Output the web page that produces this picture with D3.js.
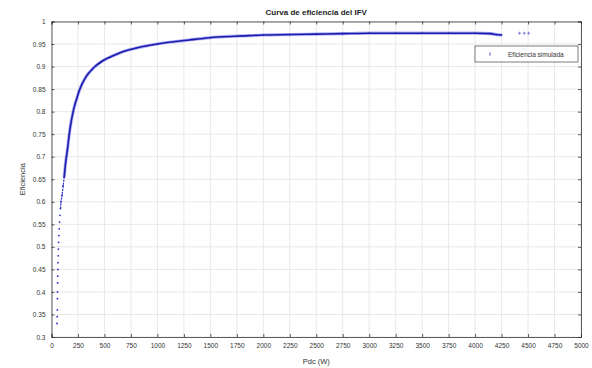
<!DOCTYPE html>
<html>
<head>
  <meta charset="utf-8">
  <script src="https://d3js.org/d3.v7.min.js"></script>
  <style>
    body { margin: 0; background: #fff; }
    text { font-family: "Liberation Sans", Arial, sans-serif; }
  </style>
</head>
<body>
<script>
  // simulated points: Pdc (W) and efficiency
  var pdc = [52, 54, 55, 56, 57, 58, 59, 60, 61, 63, 65, 67, 70, 73, 76, 80, 85, 90,
             100, 110, 120, 135, 150, 165, 180, 200, 220, 240, 260, 290, 320, 350, 380,
             420, 460, 500, 560, 620, 700, 800, 900, 1000, 1150, 1300, 1450, 1600, 1800,
             2000, 2250, 2500, 2750, 3000, 3250, 3500, 3750, 4000, 4150, 4200, 4250];
  var eff = [0.33, 0.345, 0.36, 0.385, 0.40, 0.42, 0.435, 0.45, 0.465, 0.48, 0.495, 0.51, 0.525, 0.54, 0.555, 0.57, 0.585, 0.60,
             0.615, 0.635, 0.655, 0.69, 0.715, 0.745, 0.77, 0.795, 0.815, 0.83, 0.845, 0.862, 0.875, 0.885, 0.893,
             0.902, 0.909, 0.915, 0.922, 0.928, 0.935, 0.941, 0.946, 0.950, 0.955, 0.959, 0.963, 0.966, 0.968,
             0.970, 0.971, 0.972, 0.973, 0.974, 0.974, 0.974, 0.974, 0.974, 0.973, 0.971, 0.970];
  // a few stray points past the end of the band
  var strayP = [4420, 4465, 4505];
  var strayEff = [0.974, 0.974, 0.974];

  var xTicks = d3.range(0, 5001, 250);
  var yTicks = [0.3, 0.35, 0.4, 0.45, 0.5, 0.55, 0.6, 0.65, 0.7, 0.75, 0.8, 0.85, 0.9, 0.95, 1];

  var W = 592, H = 368;
  var pLeft = 51.5, pRight = 581, pTop = 21.5, pBottom = 337;

  var svg = d3.select("body").append("svg")
      .attr("width", W).attr("height", H);

  var x = d3.scaleLinear().domain([0, 5000]).range([pLeft, pRight]);
  var y = d3.scaleLinear().domain([0.3, 1]).range([pBottom, pTop]);

  // grid
  svg.append("g").selectAll("line").data(xTicks).enter().append("line")
      .attr("x1", d => x(d)).attr("x2", d => x(d))
      .attr("y1", pTop).attr("y2", pBottom)
      .attr("stroke", "#e8e8e8").attr("stroke-width", 1);
  svg.append("g").selectAll("line").data(yTicks).enter().append("line")
      .attr("x1", pLeft).attr("x2", pRight)
      .attr("y1", d => y(d)).attr("y2", d => y(d))
      .attr("stroke", "#e8e8e8").attr("stroke-width", 1);

  // axes, ticks inside like matlab
  var xAxis = d3.axisBottom(x).tickValues(xTicks).tickSize(-3).tickPadding(6).tickFormat(d3.format("d"));
  var yAxis = d3.axisLeft(y).tickValues(yTicks).tickSize(-3).tickPadding(6).tickFormat(d => String(+d.toFixed(2)));

  var gx = svg.append("g").attr("transform", "translate(0," + pBottom + ")").call(xAxis);
  var gy = svg.append("g").attr("transform", "translate(" + pLeft + ",0)").call(yAxis);
  var gxt = svg.append("g").attr("transform", "translate(0," + pTop + ")")
      .call(d3.axisTop(x).tickValues(xTicks).tickSize(-3).tickFormat(""));
  var gyr = svg.append("g").attr("transform", "translate(" + pRight + ",0)")
      .call(d3.axisRight(y).tickValues(yTicks).tickSize(-3).tickFormat(""));

  [gx, gy, gxt, gyr].forEach(function(g) {
    g.selectAll("path").attr("stroke", "#333").attr("stroke-width", 0.8);
    g.selectAll("line").attr("stroke", "#333").attr("stroke-width", 0.8);
    g.selectAll("text").attr("fill", "#333").style("font-size", "6.5px");
  });

  // band of points
  var pts = pdc.map((p, i) => [p, eff[i]]);
  var dense = pts.filter(d => d[0] >= 120);
  var thin = pts.filter(d => d[0] >= 85 && d[0] <= 120);
  var line = d3.line().x(d => x(d[0])).y(d => y(d[1])).curve(d3.curveMonotoneX);

  svg.append("path").datum(thin).attr("d", line)
      .attr("fill", "none").attr("stroke", "#2a2ab8").attr("stroke-width", 1.2)
      .attr("stroke-dasharray", "2,1");
  svg.append("path").datum(dense).attr("d", line)
      .attr("fill", "none").attr("stroke", "#6b6bf0").attr("stroke-width", 3.2).attr("opacity", 0.55);
  svg.append("path").datum(dense).attr("d", line)
      .attr("fill", "none").attr("stroke", "#1c1ca8").attr("stroke-width", 1.6);

  svg.append("g").selectAll("circle").data(pts).enter().append("circle")
      .attr("cx", d => x(d[0])).attr("cy", d => y(d[1])).attr("r", 0.9)
      .attr("fill", "#2a2ac8");

  // stray markers drawn as small plus signs
  var stray = strayP.map((p, i) => [p, strayEff[i]]);
  var sg = svg.append("g").selectAll("g").data(stray).enter().append("g")
      .attr("transform", d => "translate(" + x(d[0]) + "," + y(d[1]) + ")");
  sg.append("line").attr("x1", -1.5).attr("x2", 1.5).attr("stroke", "#5a5ad8").attr("stroke-width", 0.7);
  sg.append("line").attr("y1", -1.5).attr("y2", 1.5).attr("stroke", "#5a5ad8").attr("stroke-width", 0.7);

  // legend
  var lg = svg.append("g");
  lg.append("rect").attr("x", 475).attr("y", 46).attr("width", 103).attr("height", 16)
      .attr("fill", "#fff").attr("stroke", "#444").attr("stroke-width", 0.7);
  lg.append("line").attr("x1", 490).attr("x2", 490).attr("y1", 52.5).attr("y2", 55.5)
      .attr("stroke", "#3a3ac8").attr("stroke-width", 0.9);
  lg.append("text").attr("x", 508).attr("y", 56.5).attr("fill", "#333")
      .style("font-size", "6.5px").text("Eficiencia simulada");

  // titles
  svg.append("text").attr("x", (pLeft + pRight) / 2).attr("y", 15)
      .attr("text-anchor", "middle").style("font-size", "8px").style("font-weight", "bold")
      .attr("fill", "#222").text("Curva de eficiencia del IFV");
  svg.append("text").attr("x", (pLeft + pRight) / 2).attr("y", 364)
      .attr("text-anchor", "middle").style("font-size", "7.5px").attr("fill", "#333").text("Pdc (W)");
  svg.append("text").attr("transform", "translate(25," + ((pTop + pBottom) / 2) + ") rotate(-90)")
      .attr("text-anchor", "middle").style("font-size", "7.5px").attr("fill", "#333").text("Eficiencia");
</script>
</body>
</html>
